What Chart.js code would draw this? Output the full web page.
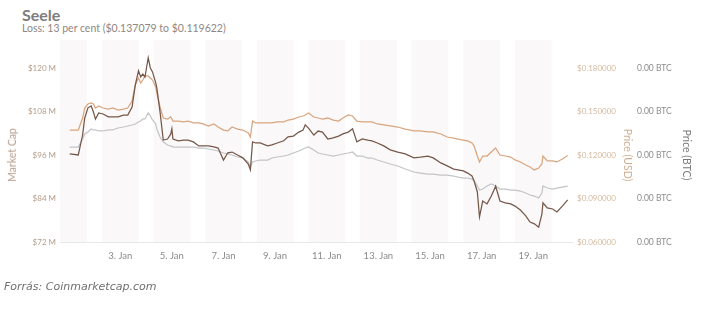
<!DOCTYPE html>
<html>
<head>
<meta charset="utf-8">
<script src="https://cdn.jsdelivr.net/npm/chart.js@4/dist/chart.umd.min.js"></script>
<style>
  html, body { margin: 0; padding: 0; background: #fff; }
  body { width: 712px; height: 313px; position: relative; overflow: hidden; }
  #chart { position: absolute; left: 0; top: 0; }
  .title { position: absolute; left: 22px; top: 5px; font: bold 16px Lato, sans-serif; color: #7d7d7d; }
  .subtitle { position: absolute; left: 22px; top: 22px; font: 10.5px Lato, sans-serif; color: #8e8784; }
  .source { position: absolute; left: 4px; top: 280px; font: italic 11px "DejaVu Sans", sans-serif; color: #6f6f6f; }
  .axis-title { position: absolute; font: 10.5px Lato, sans-serif; white-space: nowrap; transform-origin: center; }
</style>
</head>
<body>
<div class="title">Seele</div>
<div class="subtitle">Loss: 13 per cent ($0.137079 to $0.119622)</div>
<canvas id="chart" width="712" height="313"></canvas>
<div class="axis-title" id="t-cap" style="color:#b59c88">Market Cap</div>
<div class="axis-title" id="t-usd" style="color:#cfae90">Price (USD)</div>
<div class="axis-title" id="t-btc" style="color:#7a7a7a">Price (BTC)</div>
<div class="source">Forrás: Coinmarketcap.com</div>
<script>
// hours since 1 Jan 00:00
const HOURS = [
  1, 9, 13, 15, 18, 21, 23, 25, 28, 32, 37, 41, 46, 51, 55, 59, 62, 65, 67, 69,
  71, 74, 76, 78, 81, 82, 85, 88, 92, 95, 96, 97, 102, 107, 111, 116, 121, 125, 130, 135,
  139, 144, 148, 152, 157, 162, 167, 169, 171, 174, 178, 185, 189, 194, 200, 204, 209, 214, 218, 220,
  223, 228, 232, 236, 241, 246, 251, 255, 260, 264, 268, 273, 278, 282, 287, 293, 299, 306, 313, 321,
  327, 334, 339, 346, 352, 358, 362, 367, 371, 375, 377, 380, 382, 385, 389, 393, 397, 401, 406, 411,
  415, 420, 425, 429, 433, 437, 440, 441, 445, 450, 454, 459, 464
];

// market cap, millions USD
const MARKET_CAP = [
  96.3, 96.0, 101.5, 106.2, 109.0, 109.5, 107.9, 105.9, 107.6, 107.3, 106.5, 106.5, 106.5, 107.0, 107.0, 109.2, 115.3, 119.2, 117.5, 118.3,
  117.5, 122.8, 120.0, 118.9, 115.9, 114.5, 107.9, 100.1, 100.4, 101.8, 103.2, 100.4, 99.9, 100.1, 100.1, 99.6, 98.5, 98.5, 98.5, 98.2,
  97.9, 94.6, 96.6, 96.8, 96.0, 95.2, 93.5, 91.9, 99.6, 99.3, 99.3, 98.5, 98.8, 99.3, 99.9, 101.0, 101.2, 102.3, 102.9, 104.3,
  103.4, 101.5, 102.6, 102.3, 100.4, 100.7, 101.2, 101.8, 102.3, 103.2, 99.6, 100.4, 100.1, 99.9, 99.3, 98.5, 97.4, 96.8, 96.3, 95.2,
  95.4, 95.7, 95.2, 93.8, 93.0, 92.1, 91.9, 91.6, 91.0, 90.2, 88.8, 85.8, 78.9, 83.3, 82.5, 84.7, 87.4, 83.3, 82.8, 82.5,
  81.9, 80.8, 79.2, 77.5, 77.0, 76.1, 79.7, 82.8, 81.4, 81.1, 80.3, 81.9, 83.6
];

// price, USD
const PRICE_USD = [
  0.1371, 0.1372, 0.1455, 0.1524, 0.1552, 0.1559, 0.1552, 0.1524, 0.1538, 0.1524, 0.1517, 0.1524, 0.1510, 0.1517, 0.1524, 0.1572, 0.1683, 0.1731, 0.1697, 0.1717,
  0.1745, 0.1745, 0.1731, 0.1717, 0.1669, 0.1628, 0.1531, 0.1455, 0.1448, 0.1462, 0.1448, 0.1434, 0.1434, 0.1428, 0.1434, 0.1421, 0.1421, 0.1414, 0.1400, 0.1414,
  0.1393, 0.1372, 0.1366, 0.1393, 0.1379, 0.1372, 0.1352, 0.1324, 0.1434, 0.1421, 0.1421, 0.1421, 0.1421, 0.1428, 0.1428, 0.1441, 0.1448, 0.1462, 0.1469, 0.1476,
  0.1490, 0.1462, 0.1455, 0.1448, 0.1455, 0.1441, 0.1434, 0.1455, 0.1476, 0.1469, 0.1434, 0.1428, 0.1428, 0.1428, 0.1414, 0.1407, 0.1400, 0.1393, 0.1379, 0.1366,
  0.1366, 0.1359, 0.1359, 0.1345, 0.1324, 0.1317, 0.1310, 0.1303, 0.1297, 0.1283, 0.1262, 0.1193, 0.1152, 0.1193, 0.1193, 0.1221, 0.1248, 0.1200, 0.1193, 0.1186,
  0.1166, 0.1152, 0.1131, 0.1117, 0.1097, 0.1110, 0.1138, 0.1193, 0.1159, 0.1159, 0.1152, 0.1172, 0.1196
];

// price, satoshi
const PRICE_SAT = [
  4184, 4184, 4368, 4483, 4529, 4598, 4575, 4575, 4552, 4552, 4575, 4575, 4621, 4644, 4667, 4690, 4713, 4759, 4782, 4828,
  4828, 4966, 4897, 4805, 4713, 4598, 4414, 4299, 4230, 4207, 4207, 4184, 4184, 4184, 4184, 4184, 4161, 4161, 4138, 4115,
  4092, 4046, 4023, 4000, 3954, 3931, 3839, 3724, 3839, 3862, 3885, 3885, 3931, 3954, 3977, 4000, 4046, 4092, 4138, 4161,
  4184, 4115, 4046, 4023, 4000, 3977, 4000, 4023, 4046, 4069, 3977, 3977, 3931, 3931, 3885, 3839, 3793, 3747, 3678, 3609,
  3586, 3563, 3563, 3540, 3540, 3517, 3494, 3471, 3471, 3448, 3402, 3287, 3195, 3218, 3287, 3333, 3287, 3218, 3218, 3195,
  3195, 3172, 3126, 3080, 3057, 3011, 3126, 3287, 3241, 3218, 3241, 3264, 3287
];

const X_TICKS = [48, 96, 144, 192, 240, 288, 336, 384, 432];
const BAND_CENTERS = [0, 48, 96, 144, 192, 240, 288, 336, 384, 432];
const CAP_TICKS = [72, 84, 96, 108, 120];
const USD_TICKS = [0.06, 0.09, 0.12, 0.15, 0.18];
const SAT_TICKS = [2000, 3000, 4000, 5000, 6000];

const pts = (vals) => vals.map((v, i) => ({ x: HOURS[i], y: v }));
const setTicks = (arr) => (scale) => { scale.ticks = arr.map((v) => ({ value: v })); };
const fixWidth = (w) => (scale) => { scale.width = w; };

const bands = {
  id: 'bands',
  beforeDatasetsDraw(chart) {
    const { ctx, chartArea, scales } = chart;
    ctx.save();
    ctx.fillStyle = '#faf8f8';
    for (const c of BAND_CENTERS) {
      const l = Math.max(scales.x.getPixelForValue(c - 17), chartArea.left);
      const r = Math.min(scales.x.getPixelForValue(c + 17), chartArea.right);
      if (r > l) ctx.fillRect(l, chartArea.top, r - l, chartArea.bottom - chartArea.top);
    }
    ctx.restore();
  },
};

// rotated axis titles, placed beside each scale
const axisTitles = {
  id: 'axisTitles',
  afterDraw(chart) {
    const place = (id, x, deg) => {
      const el = document.getElementById(id);
      const w = el.offsetWidth, h = el.offsetHeight;
      el.style.left = `${x - w / 2}px`;
      el.style.top = `${155 - h / 2}px`;
      el.style.transform = `rotate(${deg}deg)`;
    };
    place('t-cap', chart.scales.cap.left + 12, -90);
    place('t-usd', chart.scales.usd.right - 7, 90);
    place('t-btc', chart.scales.btc.right - 8, 90);
  },
};

const line = (data, color, axis) => ({
  data: pts(data), yAxisID: axis, borderColor: color, borderWidth: 1.25,
  pointRadius: 0, tension: 0, fill: false,
});

const noGrid = { display: false, drawTicks: false };

new Chart(document.getElementById('chart'), {
  type: 'line',
  data: {
    datasets: [
      line(MARKET_CAP, '#75584a', 'cap'),
      line(PRICE_SAT, '#c3c4c8', 'btc'),
      line(PRICE_USD, '#d9a57e', 'usd'),
    ],
  },
  plugins: [bands, axisTitles],
  options: {
    responsive: false,
    animation: false,
    devicePixelRatio: 1,
    layout: { padding: { top: 40, left: 0, right: 17, bottom: 51 } },
    plugins: { legend: { display: false }, tooltip: { enabled: false } },
    scales: {
      x: {
        type: 'linear', min: -8, max: 468,
        afterBuildTicks: setTicks(X_TICKS),
        afterFit: (s) => { s.height = 20; },
        grid: { color: 'transparent', drawTicks: false },
        border: { color: '#e8e8e8', width: 1 },
        ticks: { padding: 8, color: '#8a8a8a', font: { family: 'Lato, sans-serif', size: 9.5 },
          callback: (v) => `${v / 24 + 1}. Jan`, maxRotation: 0, autoSkip: false },
      },
      cap: {
        position: 'left', min: 72, max: 127.7,
        afterBuildTicks: setTicks(CAP_TICKS),
        afterFit: fixWidth(60),
        grid: noGrid, border: { display: false },
        ticks: { padding: 4, color: '#b59c88', font: { family: 'Lato, sans-serif', size: 8 },
          callback: (v) => `$${v} M` },
      },
      usd: {
        position: 'right', min: 0.06, max: 0.1993,
        afterBuildTicks: setTicks(USD_TICKS),
        afterFit: fixWidth(63),
        grid: noGrid, border: { display: false },
        ticks: { padding: 5, color: '#d6b99e', font: { family: 'Lato, sans-serif', size: 8 },
          callback: (v) => `$${v.toFixed(6)}` },
      },
      btc: {
        position: 'right', min: 2000, max: 6644,
        afterBuildTicks: setTicks(SAT_TICKS),
        afterFit: fixWidth(60),
        grid: noGrid, border: { display: false },
        ticks: { padding: 2, color: '#8c8c8c', font: { family: 'Lato, sans-serif', size: 8.5 },
          callback: (v) => `${(v / 1e8).toFixed(2)} BTC` },
      },
    },
  },
});
</script>
</body>
</html>
